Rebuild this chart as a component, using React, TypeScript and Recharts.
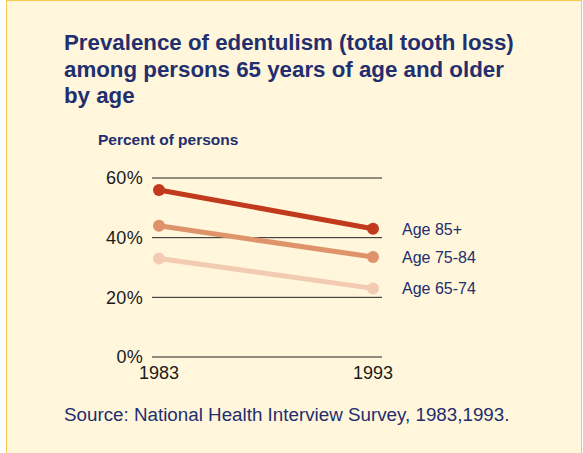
import React from 'react';
import { LineChart, Line, XAxis, YAxis, CartesianGrid } from 'recharts';

const years = ['1983', '1993'];
const age85plus = [56, 43];
const age75to84 = [44, 33.5];
const age65to74 = [33, 23];
const yTicks = [0, 20, 40, 60];

const series = [
  { key: 'age85plus', name: 'Age 85+', values: age85plus, color: '#C13A1B' },
  { key: 'age75to84', name: 'Age 75-84', values: age75to84, color: '#DF936A' },
  { key: 'age65to74', name: 'Age 65-74', values: age65to74, color: '#F2CBB2' },
];

const data = years.map((year, i) => {
  const row: Record<string, string | number> = { year };
  series.forEach((s) => {
    row[s.key] = s.values[i];
  });
  return row;
});

const FONT = '"Liberation Sans", Arial, Helvetica, sans-serif';
const NAVY = '#232E6E';

// series name drawn to the right of the last point
const endLabel = (name: string) => (props: any) => {
  if (props.index !== data.length - 1) return null;
  return (
    <text
      x={props.x + 29}
      y={props.y}
      dy={6}
      fill={NAVY}
      fontSize={16}
      fontFamily={FONT}
    >
      {name}
    </text>
  );
};

export default function App() {
  return (
    <div style={{ position: 'absolute', left: 0, top: 0, width: 583, height: 453, background: '#fff', fontFamily: FONT }}>
      <div
        style={{
          position: 'absolute',
          left: 6,
          top: 0,
          width: 576,
          height: 453,
          boxSizing: 'border-box',
          background: '#FFF6DB',
          borderLeft: '1.5px solid #F8C94B',
          borderTop: '1.5px solid #F8C94B',
          borderRight: '1.5px solid #F8C94B',
        }}
      />
      <div
        style={{
          position: 'absolute',
          left: 64,
          top: 30,
          fontSize: 22.3,
          lineHeight: '26.5px',
          fontWeight: 'bold',
          color: NAVY,
        }}
      >
        Prevalence of edentulism (total tooth loss)
        <br />
        among persons 65 years of age and older
        <br />
        by age
      </div>
      <div
        style={{
          position: 'absolute',
          left: 98,
          top: 131,
          fontSize: 15.5,
          lineHeight: '18px',
          fontWeight: 'bold',
          color: NAVY,
        }}
      >
        Percent of persons
      </div>
      <div
        style={{
          position: 'absolute',
          left: 64,
          top: 404,
          fontSize: 18.8,
          lineHeight: '22px',
          color: NAVY,
        }}
      >
        Source: National Health Interview Survey, 1983,1993.
      </div>
      <div style={{ position: 'absolute', left: 0, top: 0 }}>
        <LineChart
          width={583}
          height={453}
          data={data}
          margin={{ top: 178, right: 201, bottom: 66, left: 0 }}
        >
          <CartesianGrid horizontal vertical={false} stroke="#222" strokeWidth={1} />
          <XAxis
            dataKey="year"
            height={30}
            axisLine={false}
            tickLine={false}
            tickMargin={3}
            padding={{ left: 7, right: 9 }}
            tick={{ fill: '#1a1a1a', fontSize: 18, fontFamily: FONT }}
          />
          <YAxis
            width={152}
            domain={[0, 60]}
            ticks={yTicks}
            axisLine={false}
            tickLine={false}
            tickMargin={3}
            tickFormatter={(v) => `${v}%`}
            tick={{ fill: '#1a1a1a', fontSize: 18, fontFamily: FONT, letterSpacing: 0.3 }}
          />
          {series.map((s) => (
            <Line
              key={s.key}
              dataKey={s.key}
              name={s.name}
              stroke={s.color}
              strokeWidth={5}
              dot={{ r: 6, fill: s.color, stroke: s.color, strokeWidth: 0 }}
              activeDot={false}
              label={endLabel(s.name)}
              isAnimationActive={false}
            />
          ))}
        </LineChart>
      </div>
    </div>
  );
}
